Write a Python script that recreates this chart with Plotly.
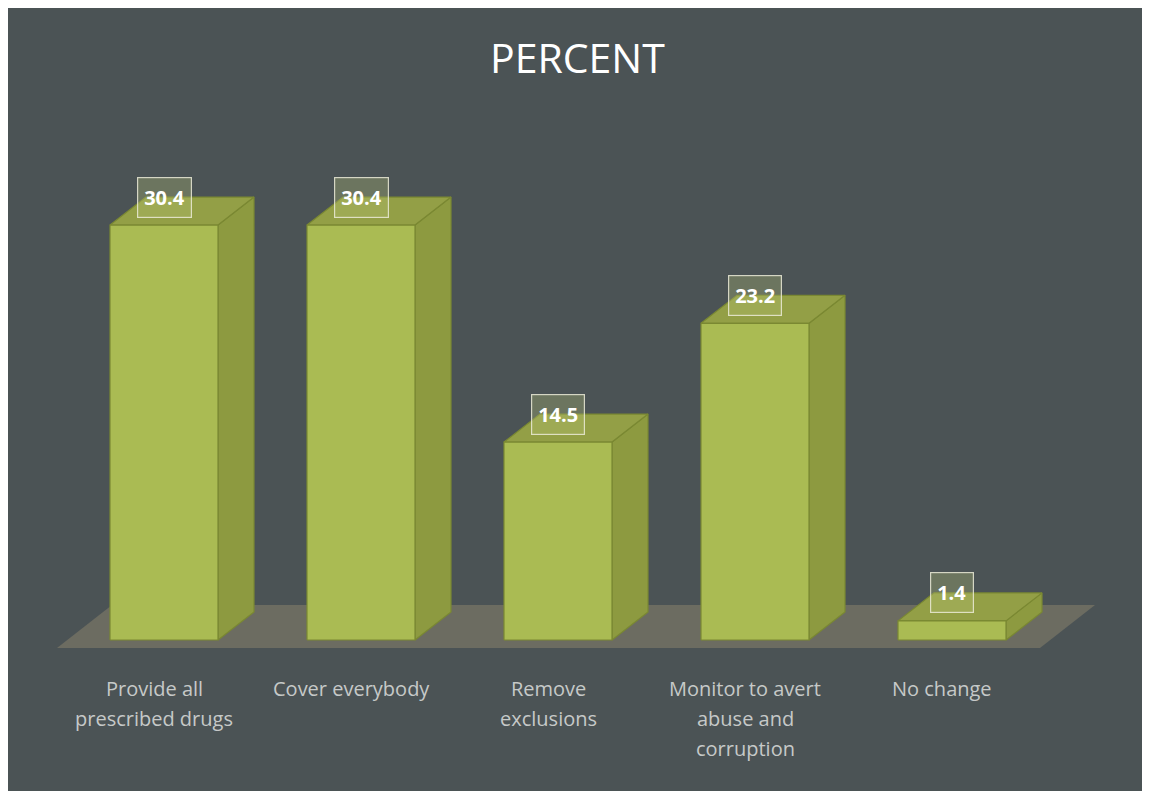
import plotly.graph_objects as go

# ---- data ----
categories = [["Provide all", "prescribed drugs"], ["Cover everybody"], ["Remove", "exclusions"],
              ["Monitor to avert", "abuse and", "corruption"], ["No change"]]
values = [30.4, 30.4, 14.5, 23.2, 1.4]
value_labels = ["30.4", "30.4", "14.5", "23.2", "1.4"]
title_text = "PERCENT"

# ---- geometry (reference pixels, page offset 8 removed) ----
OFF = 8
W, H = 1150 - OFF, 791 - OFF
PX_X = 197.0      # pixels per category step
PX_Y = 13.65      # pixels per percent
X0_PX = 164.0 - OFF
Y0_PX = 640.0 - OFF

def ux(px):
    return px / PX_X

def uy(px):
    return px / PX_Y

def rx(px_ref):  # reference x pixel -> x units
    return (px_ref - OFF - X0_PX) / PX_X

def ry(px_ref):  # reference y pixel -> y units
    return (Y0_PX - (px_ref - OFF)) / PX_Y

x_range = [rx(OFF), rx(OFF + W)]
y_range = [ry(OFF + H), ry(OFF)]

half_w = ux(54)
dx, dy = ux(36), uy(28)

BG = "#4b5355"
FRONT = "#aabb53"
TOP = "#939f46"
SIDE = "#8d9a40"
EDGE = "#7a8832"
FLOOR = "#6c6c61"

fig = go.Figure()

# floor
fx = [rx(57), rx(1040), rx(1095), rx(112)]
fy = [ry(648), ry(648), ry(605), ry(605)]
fig.add_trace(go.Scatter(x=fx + [fx[0]], y=fy + [fy[0]], fill="toself", fillcolor=FLOOR,
                         mode="lines", line=dict(width=0), hoverinfo="skip", showlegend=False))

def poly(xs, ys, color):
    fig.add_trace(go.Scatter(x=xs + [xs[0]], y=ys + [ys[0]], fill="toself", fillcolor=color,
                             mode="lines", line=dict(color=EDGE, width=1.2),
                             hoverinfo="skip", showlegend=False))

for i, v in enumerate(values):
    l, r = i - half_w, i + half_w
    poly([r, r + dx, r + dx, r], [0, dy, v + dy, v], SIDE)          # side face
    poly([l, r, r + dx, l + dx], [v, v, v + dy, v + dy], TOP)       # top face
    poly([l, r, r, l], [0, 0, v, v], FRONT)                         # front face

annotations = []
for i, (v, lab) in enumerate(zip(values, value_labels)):
    annotations.append(dict(x=i, y=v, xref="x", yref="y", text="<b>" + lab + "</b>",
                            showarrow=False, yshift=28, xanchor="center", yanchor="middle",
                            font=dict(family="Open Sans", size=20, color="white"),
                            bgcolor="rgba(185,195,120,0.30)", bordercolor="rgba(235,235,215,0.85)",
                            borderwidth=1.2, borderpad=6))
for i, lines in enumerate(categories):
    for j, line in enumerate(lines):
        annotations.append(dict(x=i, y=ry(688 + 30 * j), xref="x", yref="y", text=line,
                                showarrow=False, xshift=-10, xanchor="center", yanchor="middle",
                                font=dict(family="Open Sans", size=20, color="#c6c9c8")))
annotations.append(dict(x=rx(577), y=ry(57), xref="x", yref="y", text=title_text,
                        showarrow=False, xanchor="center", yanchor="middle",
                        font=dict(family="Open Sans", size=41, color="white")))

fig.update_layout(
    width=W, height=H,
    margin=dict(l=0, r=0, t=0, b=0),
    paper_bgcolor=BG, plot_bgcolor=BG,
    xaxis=dict(range=x_range, visible=False, fixedrange=True),
    yaxis=dict(range=y_range, visible=False, fixedrange=True),
    annotations=annotations,
    showlegend=False,
)

fig.write_html("out.html")
